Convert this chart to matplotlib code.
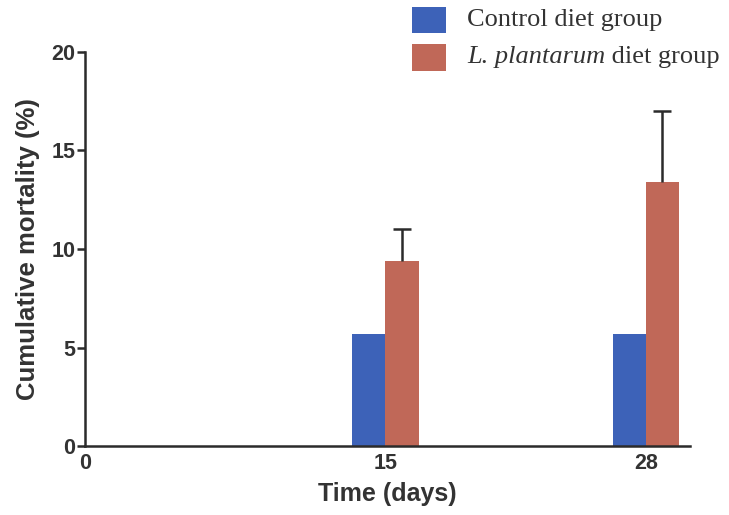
import matplotlib
matplotlib.use("Agg")
import matplotlib.pyplot as plt
from matplotlib.patches import Rectangle

days = [0, 15, 28]
control = [0.0, 5.7, 5.7]
plantarum = [0.0, 9.4, 13.4]
plantarum_err = [0.0, 1.6, 3.6]
tick_labels = ["0", "15", "28"]

blue = "#3d62b8"
red = "#c06858"
ink = "#2b2b2b"
text_col = "#333333"

W, H = 729, 515
fig = plt.figure(figsize=(W / 100, H / 100), dpi=100)
ax = fig.add_axes([85 / W, 1 - 446 / H, 605 / W, 394 / H])

w = 1.65
ax.bar([d - w / 2 for d in days], control, width=w, color=blue, linewidth=0)
ax.bar([d + w / 2 for d in days], plantarum, width=w, color=red, linewidth=0)

# upper-only error bars with a single cap at the top
tops = [p + e for p, e in zip(plantarum, plantarum_err)]
xs = [d + w / 2 for d in days]
for x, p, t, e in zip(xs, plantarum, tops, plantarum_err):
    if e > 0:
        ax.plot([x, x], [p, t], color=ink, lw=1.8, solid_capstyle="butt")
        ax.plot([x], [t], marker="_", markersize=13, mew=1.8, color=ink)

ax.set_xlim(0, 30.2)
ax.set_ylim(0, 20)
ax.set_yticks([0, 5, 10, 15, 20])
ax.set_xticks(days)
ax.set_xticklabels(tick_labels)

for s in ("top", "right"):
    ax.spines[s].set_visible(False)
for s in ("left", "bottom"):
    ax.spines[s].set_linewidth(1.8)
    ax.spines[s].set_color(ink)

ax.tick_params(axis="y", direction="out", length=6, width=1.8, color=ink, pad=1)
ax.tick_params(axis="x", length=0, pad=5)
for lab in ax.get_xticklabels() + ax.get_yticklabels():
    lab.set_fontfamily("Liberation Sans")
    lab.set_fontweight("bold")
    lab.set_fontsize(15.5)
    lab.set_color(text_col)

ax.set_xlabel("Time (days)", fontfamily="Liberation Sans", fontweight="bold",
              fontsize=18, color=text_col, labelpad=6)
ax.set_ylabel("Cumulative mortality (%)", fontfamily="Liberation Sans",
              fontweight="bold", fontsize=18.5, color=text_col, labelpad=8)

# legend drawn as swatches with serif labels, species name in italics
swatches = [(blue, 7, 33), (red, 44, 71)]
for col, y_top, y_bot in swatches:
    fig.patches.append(Rectangle((412 / W, 1 - y_bot / H), 34 / W,
                                 (y_bot - y_top) / H, facecolor=col,
                                 edgecolor="none", transform=fig.transFigure))

fs = 19
fig.text(467 / W, 1 - 20 / H, "Control diet group", fontfamily="Liberation Serif",
         fontsize=fs, color=text_col, va="center")
t1 = fig.text(467 / W, 1 - 57 / H, "L. plantarum", fontfamily="Liberation Serif",
              fontstyle="italic", fontsize=fs, color=text_col, va="center")
fig.canvas.draw()
bb = t1.get_window_extent()
x1 = fig.transFigure.inverted().transform((bb.x1, bb.y0))[0]
fig.text(x1, 1 - 57 / H, " diet group", fontfamily="Liberation Serif",
         fontsize=fs, color=text_col, va="center")

fig.savefig("out.png", dpi=100)
